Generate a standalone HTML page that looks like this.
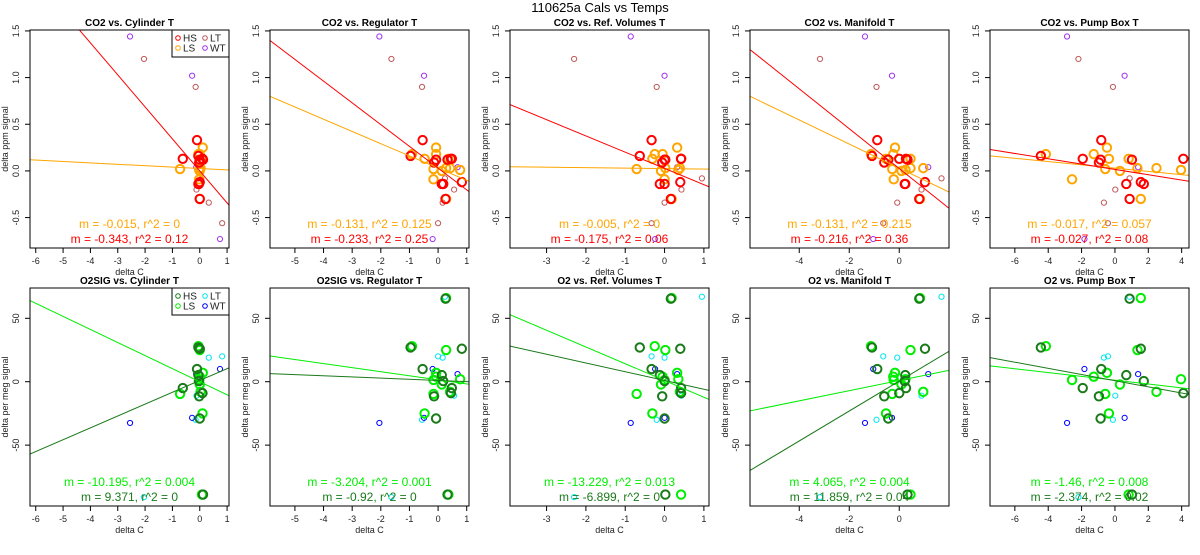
<!DOCTYPE html>
<html><head><meta charset="utf-8"><style>
body{margin:0;background:#fff}
svg text{font-family:"Liberation Sans",sans-serif}
</style></head><body>
<svg id="chart" width="1200" height="550" xmlns="http://www.w3.org/2000/svg">
<rect width="1200" height="550" fill="#fff"/>
<text x="600" y="12" text-anchor="middle" font-size="13">110625a   Cals vs Temps</text>
</svg>
<script>
const titlesTop = ["CO2 vs. Cylinder T","CO2 vs. Regulator T","CO2 vs. Ref. Volumes T","CO2 vs. Manifold T","CO2 vs. Pump Box T"];
const titlesBot = ["O2SIG vs. Cylinder T","O2SIG vs. Regulator T","O2 vs. Ref. Volumes T","O2 vs. Manifold T","O2 vs. Pump Box T"];
const xLims = [[-6.21,1.07],[-5.87,1.08],[-3.93,1.13],[-5.97,1.99],[-7.49,4.44]];
const xTicks = [[-6,-5,-4,-3,-2,-1,0,1],[-5,-4,-3,-2,-1,0,1],[-3,-2,-1,0,1],[-4,-2,0],[-6,-4,-2,0,2,4]];
const yLimTop = [-0.826,1.51];
const yLimBot = [-98,73.9];
const yTicksTop = [-0.5,0,0.5,1,1.5];
const yTickLabelsTop = ["-0.5","0.0","0.5","1.0","1.5"];
const yTicksBot = [-50,0,50];
const hsX = [[-0.05,-0.62,-0.1,0.0,-0.02,-0.05,0.0,0.12,0.0,-0.03,0.1],[-0.96,0.48,-0.54,-0.07,-0.14,0.13,0.26,0.33,0.83,0.18,0.45],[-0.63,0.42,-0.33,0.0,-0.06,-0.12,0.16,0.02,0.4,0.0,0.42],[-1.09,0.27,-0.88,-0.44,-0.6,0.24,0.8,0.33,1.03,0.22,0.0],[-4.44,-1.93,-0.82,-0.86,-0.96,0.68,0.88,1.02,1.55,1.73,4.1]];
const hsCO2 = [0.16,0.13,0.33,0.12,0.09,-0.14,-0.30,0.12,-0.12,-0.14,0.13];
const hsO2 = [27,-5,10,-29,-11.5,5.2,65.5,-89,26,0.5,-9];
const lsX = [[-0.05,-0.02,0.0,0.11,0.1,-0.72,0.0,0.08,0.0,0.0,0.03,-0.02],[-0.91,-0.16,-0.07,-0.07,-0.47,-0.16,0.13,0.36,0.28,0.28,0.42,0.77],[-0.25,0.0,-0.05,0.32,-0.31,-0.71,-0.09,0.42,0.02,0.18,0.39,0.35],[-1.13,-0.22,-0.24,-0.17,-0.53,-0.28,0.09,0.45,0.45,0.83,0.96,0.25],[-4.14,-2.57,-1.27,-0.48,-0.36,-0.58,0.30,0.82,1.35,1.55,2.49,3.96]];
const lsCO2 = [0.18,-0.09,0.18,0.25,0.13,0.02,0.0,0.13,0.03,-0.30,0.03,0.01];
const lsO2 = [28,1.4,4,7,-25,-9.6,-2.2,-89,25,66,-8,2];
const ltX = [[-2.04,-0.15,-0.12,-0.05,0.82,0.33],[-1.63,-0.56,0.56,0.24,0.0,0.16],[-2.3,-0.2,0.43,0.95,-0.33,0.0],[-3.17,-0.91,0.89,1.69,-0.64,-0.08],[-2.19,-0.12,0.02,0.88,-0.42,-0.66]];
const ltCO2 = [1.2,0.9,-0.2,-0.08,-0.56,-0.34];
const ltO2 = [-91,-30,-11,67,20,19];
const wtX = [[-2.55,-0.28,-0.13,0.74],[-2.05,-0.49,0.68,-0.19],[-0.86,0.0,0.32,-0.24],[-1.37,-0.29,1.16,-1.04],[-2.87,0.58,1.39,-1.83]];
const wtCO2 = [1.44,1.02,0.04,-0.73];
const wtO2 = [-32.5,-28.5,6,10];
const lsSlopeTop = [-0.015,-0.131,-0.005,-0.129,-0.0176];
const lsIntTop = [0.026,0.03,0.025,0.03,0.03];
const hsSlopeTop = [-0.343,-0.233,-0.174,-0.2136,-0.0285];
const hsIntTop = [0.0,0.03,0.027,0.025,0.016];
const lsSlopeBot = [-10.3,-3.2,-13.2,4.02,-1.51];
const lsIntBot = [0,1.5,1,1,1.2];
const hsSlopeBot = [9.34,-0.92,-6.9,11.8,-2.43];
const hsIntBot = [1,1,1,0.5,0.8];
const annTop1 = ["m = -0.015, r^2 = 0","m = -0.131, r^2 = 0.125","m = -0.005, r^2 = 0","m = -0.131, r^2 = 0.215","m = -0.017, r^2 = 0.057"];
const annTop2 = ["m = -0.343, r^2 = 0.12","m = -0.233, r^2 = 0.25","m = -0.175, r^2 = 0.06","m = -0.216, r^2 = 0.36","m = -0.027, r^2 = 0.08"];
const annBot1 = ["m = -10.195, r^2 = 0.004","m = -3.204, r^2 = 0.001","m = -13.229, r^2 = 0.013","m = 4.065, r^2 = 0.004","m = -1.46, r^2 = 0.008"];
const annBot2 = ["m = 9.371, r^2 = 0","m = -0.92, r^2 = 0","m = -6.899, r^2 = 0","m = 11.859, r^2 = 0.04","m = -2.374, r^2 = 0.02"];

const NS="http://www.w3.org/2000/svg";
const svg=document.getElementById('chart');
function mk(tag,attrs,parent){const e=document.createElementNS(NS,tag);for(const k in attrs)e.setAttribute(k,attrs[k]);(parent||svg).appendChild(e);return e;}

function panel(i,row){
  const L=30+240*i, R=229+240*i;
  const T=row===0?30:288, B=row===0?248:506;
  const xl=xLims[i], yl=row===0?yLimTop:yLimBot;
  const sx=v=>L+(v-xl[0])/(xl[1]-xl[0])*(R-L);
  const sy=v=>B-(v-yl[0])/(yl[1]-yl[0])*(B-T);
  const g=mk('g',{});
  
  
  const cid='clip'+row+i;
  const cp=mk('clipPath',{id:cid},g); mk('rect',{x:L,y:T,width:R-L,height:B-T},cp);
  const t=mk('text',{x:(L+R)/2,y:T-4,'text-anchor':'middle','font-size':10,'font-weight':'bold'},g);
  t.textContent=(row===0?titlesTop:titlesBot)[i];
  
  
  xTicks[i].forEach(v=>{
    mk('line',{x1:sx(v),x2:sx(v),y1:B,y2:B+5,stroke:'#000','stroke-width':1},g);
    const tx=mk('text',{x:sx(v),y:B+16,'text-anchor':'middle','font-size':9,fill:'#222'},g);
    tx.textContent=String(v);
    
    
  });
  const xt=mk('text',{x:(L+R)/2,y:B+27,'text-anchor':'middle','font-size':9,fill:'#222'},g);
  xt.textContent='delta C';
  
  
  const yt=row===0?yTicksTop:yTicksBot;
  yt.forEach((v,k)=>{
    mk('line',{x1:L-5,x2:L,y1:sy(v),y2:sy(v),stroke:'#000','stroke-width':1},g);
    const ty=mk('text',{x:L-11,y:sy(v),'text-anchor':'middle','font-size':9,fill:'#222',transform:`rotate(-90 ${L-11} ${sy(v)})`},g);
    ty.textContent=row===0?yTickLabelsTop[k]:String(v);
    
    
  });
  const yx=L-22, yy=(T+B)/2;
  const ya=mk('text',{x:yx,y:yy,'text-anchor':'middle','font-size':9,fill:'#222',transform:`rotate(-90 ${yx} ${yy})`},g);
  ya.textContent=row===0?'delta ppm signal':'delta per meg signal';
  
  
  const groups=row===0?
    [[ltX,ltCO2,'#c05858',2.6,1,'lt'],[wtX,wtCO2,'#a030f0',2.6,1,'wt'],[lsX,lsCO2,'#ffa500',4.2,2,'ls'],[hsX,hsCO2,'#ff0000',4.2,2,'hs']]:
    [[ltX,ltO2,'#00e5ee',2.6,1,'lt'],[wtX,wtO2,'#0000ff',2.6,1,'wt'],[lsX,lsO2,'#00ee00',4.2,2,'ls'],[hsX,hsO2,'#1a7a1a',4.2,2,'hs']];
  const pg=mk('g',{'clip-path':`url(#${cid})`},g);
  groups.forEach(([X,Y,c,r,w,nm])=>{
    Y.forEach((yv,k)=>{
      const p=mk('circle',{cx:sx(X[i][k]),cy:sy(yv),r:r,fill:'none',stroke:c,'stroke-width':w},pg);
      
      
    });
  });
  const lines=row===0?[[lsSlopeTop,lsIntTop,'#ffa500','ls'],[hsSlopeTop,hsIntTop,'#ff0000','hs']]:[[lsSlopeBot,lsIntBot,'#00ee00','ls'],[hsSlopeBot,hsIntBot,'#1a7a1a','hs']];
  lines.forEach(([S,I,c,nm])=>{
    const ln=mk('line',{x1:sx(xl[0]),y1:sy(I[i]+S[i]*xl[0]),x2:sx(xl[1]),y2:sy(I[i]+S[i]*xl[1]),stroke:c,'stroke-width':1},pg);
    
    
  });
  const a1=row===0?annTop1:annBot1, a2=row===0?annTop2:annBot2;
  const c1=row===0?'#ffa500':'#00ee00', c2=row===0?'#ff0000':'#1a7a1a';
  const t1=mk('text',{x:(L+R)/2,y:B-20,'text-anchor':'middle','font-size':12,fill:c1},g);
  t1.textContent=a1[i];
  
  
  const t2=mk('text',{x:(L+R)/2,y:B-5,'text-anchor':'middle','font-size':12,fill:c2},g);
  t2.textContent=a2[i];
  
  
  mk('rect',{x:L,y:T,width:R-L,height:B-T,fill:'none',stroke:'#000','stroke-width':1},g);
  if(i===0){
    const lg=mk('g',{},g);
    
    
    mk('rect',{x:172,y:T,width:57,height:27,fill:'#fff',stroke:'#000','stroke-width':1},lg);
    const ent=row===0?[['HS','#ff0000',178,T+8],['LT','#c05858',205,T+8],['LS','#ffa500',178,T+18],['WT','#a030f0',205,T+18]]:
      [['HS','#1a7a1a',178,T+8],['LT','#00e5ee',205,T+8],['LS','#00ee00',178,T+18],['WT','#0000ff',205,T+18]];
    ent.forEach(([n,c,x,y])=>{
      const e=mk('g',{},lg);
      
      
      mk('circle',{cx:x,cy:y,r:2.3,fill:'none',stroke:c,'stroke-width':1},e);
      const tt=mk('text',{x:x+5,y:y+3.5,'font-size':10,fill:'#222'},e);
      tt.textContent=n;
    });
  }
}
for(let i=0;i<5;i++){panel(i,0);panel(i,1);}
</script>
</body></html>
